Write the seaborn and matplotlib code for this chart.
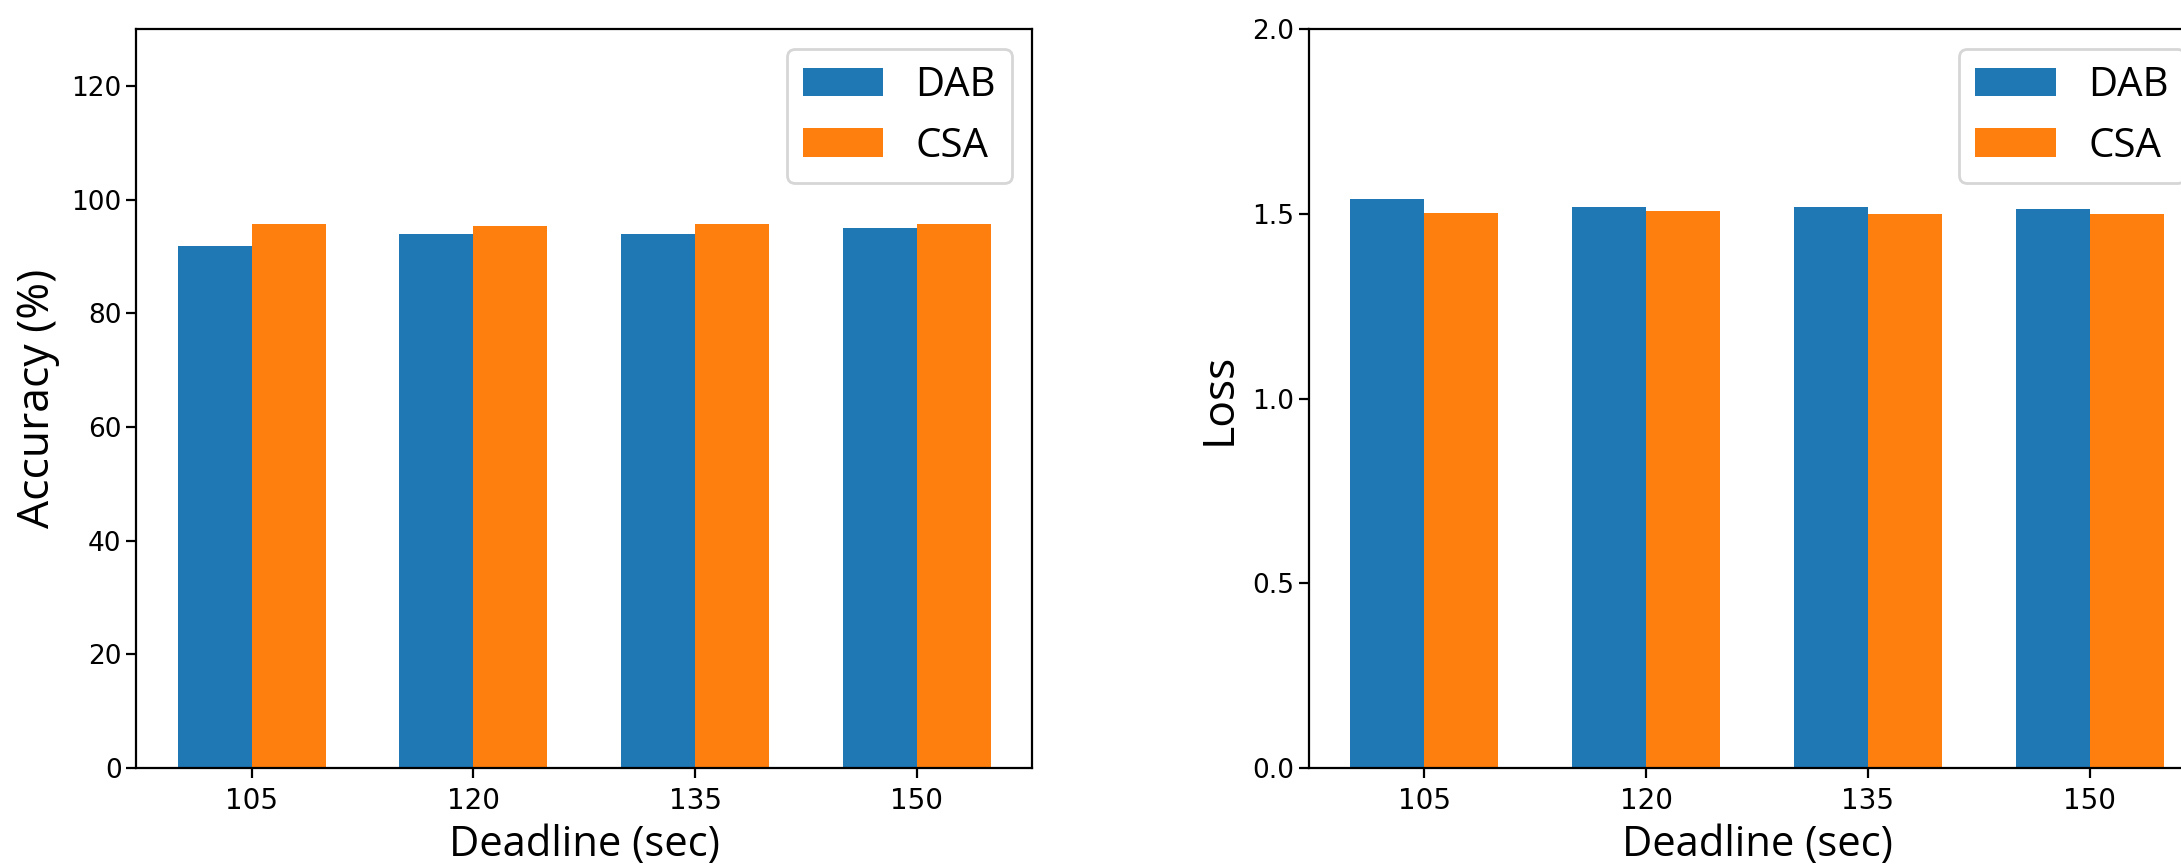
import matplotlib
matplotlib.use("Agg")
import matplotlib.pyplot as plt
import seaborn as sns
import pandas as pd

deadlines = ["105", "120", "135", "150"]
methods = ["DAB", "CSA"]
acc_dab = [91.9, 94.0, 94.0, 95.0]
acc_csa = [95.7, 95.4, 95.7, 95.7]
loss_dab = [1.539, 1.518, 1.518, 1.512]
loss_csa = [1.501, 1.507, 1.500, 1.500]
acc_ticks = [0, 20, 40, 60, 80, 100, 120]
loss_ticks = [0.0, 0.5, 1.0, 1.5, 2.0]

palette = {"DAB": "#1f77b4", "CSA": "#ff7f0e"}
label_font = ["Open Sans", "DejaVu Sans"]

def make_df(a, b):
    rows = []
    for d, v in zip(deadlines, a):
        rows.append({"Deadline": d, "Method": "DAB", "Value": v})
    for d, v in zip(deadlines, b):
        rows.append({"Deadline": d, "Method": "CSA", "Value": v})
    return pd.DataFrame(rows)

fig = plt.figure(figsize=(10.905, 4.32), dpi=200)
ax1 = fig.add_axes([0.0625, 0.1113, 0.4108, 0.8549])
ax2 = fig.add_axes([0.6002, 0.1113, 0.4108, 0.8549])

panels = [
    (ax1, make_df(acc_dab, acc_csa), "Accuracy (%)", (0, 130), acc_ticks),
    (ax2, make_df(loss_dab, loss_csa), "Loss", (0, 2.0), loss_ticks),
]

for ax, df, ylabel, ylim, yticks in panels:
    sns.barplot(data=df, x="Deadline", y="Value", hue="Method",
                hue_order=methods, order=deadlines, palette=palette,
                saturation=1, width=0.667, linewidth=0, ax=ax, errorbar=None)
    ax.set_xlim(-0.52, 3.52)
    ax.set_ylim(*ylim)
    ax.set_yticks(yticks)
    ax.tick_params(axis="x", labelsize=10)
    ax.tick_params(axis="y", labelsize=9.5, pad=1.8)
    ax.set_xlabel("Deadline (sec)", fontsize=15, family=label_font, labelpad=3)
    ax.set_ylabel(ylabel, fontsize=16, family=label_font, labelpad=4)
    handles, labels = ax.get_legend_handles_labels()
    ax.legend(handles, labels, loc="upper right", title=None,
              prop={"family": label_font, "size": 14.5})

fig.savefig("out.png", dpi=200)
